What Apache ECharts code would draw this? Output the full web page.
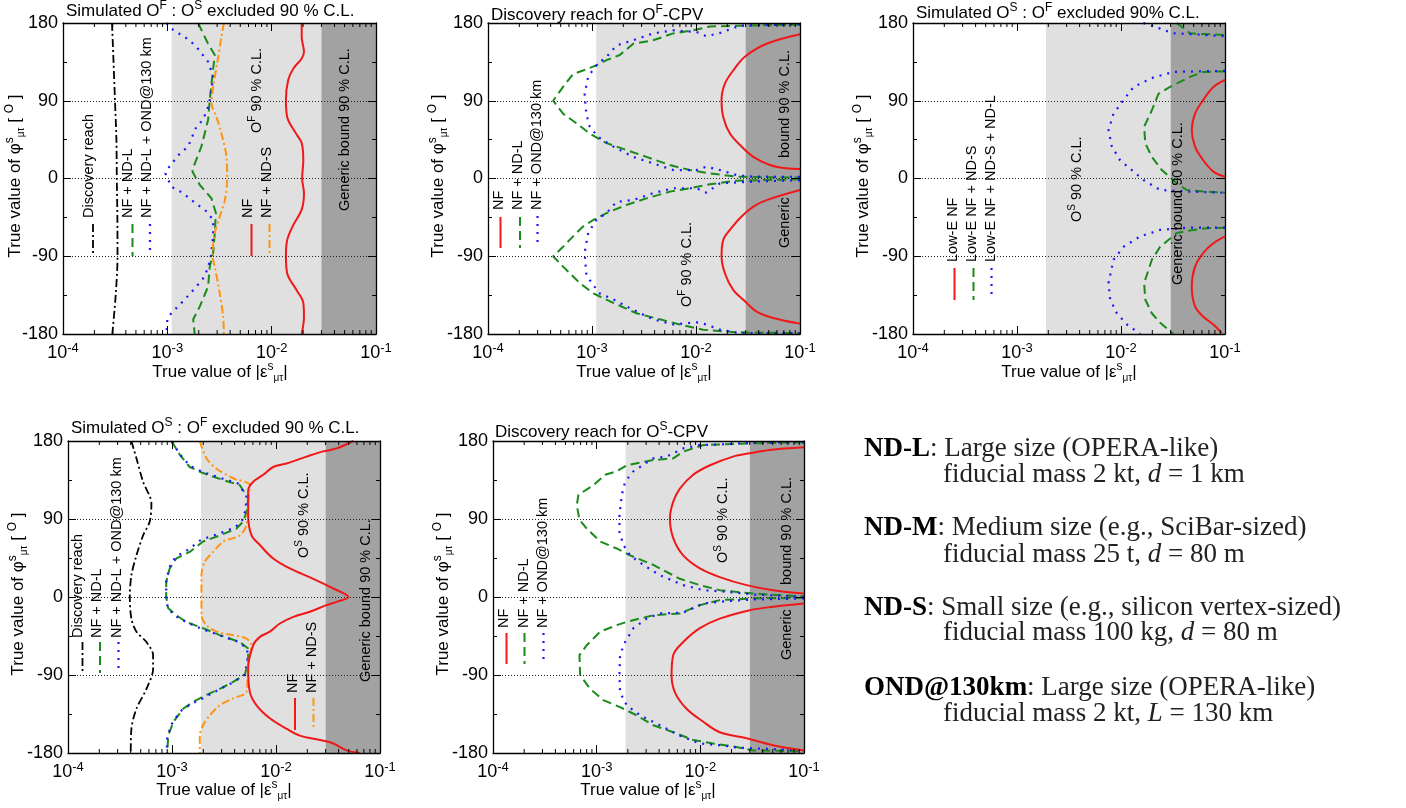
<!DOCTYPE html>
<html><head><meta charset="utf-8">
<script src="https://cdn.jsdelivr.net/npm/echarts@6/dist/echarts.min.js"></script>
<style>html,body{margin:0;padding:0;background:#fff}#c{width:1406px;height:808px}</style>
</head><body><div id="c"></div>
<script>
// ---------------- DATA ----------------
const xMin = 1e-4, xMax = 0.1;
const yMin = -180, yMax = 180, yStep = 90;
const dottedLevels = [90, 0, -90];
const minorTickValues = [2e-4,3e-4,4e-4,5e-4,6e-4,7e-4,8e-4,9e-4,2e-3,3e-3,4e-3,5e-3,6e-3,7e-3,8e-3,9e-3,2e-2,3e-2,4e-2,5e-2,6e-2,7e-2,8e-2,9e-2];
// shaded regions: start of "O 90% C.L." band and of "Generic bound" band
const boundLight = [1.1e-3, 1.1e-3, 1.9e-3, 1.9e-3, 1.9e-3];
const boundGeneric = [0.03, 0.03, 0.03, 0.03, 0.03];

// Panel 1
const p1Black = [[2.95e-4,180],[3.05e-4,135],[3.15e-4,90],[3.25e-4,45],[3.28e-4,0],[3.32e-4,-45],[3.33e-4,-90],[3.2e-4,-135],[2.97e-4,-180]];
const p1Green = [[1.97e-3,180],[2.46e-3,156],[2.85e-3,143],[2.65e-3,110],[2.55e-3,91],[2.46e-3,68],[2.12e-3,37],[1.79e-3,14],[1.74e-3,8],[2.05e-3,-7.5],[2.65e-3,-23],[2.92e-3,-40],[2.85e-3,-63],[2.75e-3,-86],[2.55e-3,-102],[2.46e-3,-125],[2.05e-3,-148],[1.77e-3,-163],[1.83e-3,-180]];
const p1Blue = [[9.8e-4,180],[1.14e-3,172],[1.64e-3,160],[1.97e-3,150],[2.46e-3,135],[2.75e-3,118],[2.59e-3,94.5],[2.46e-3,83],[2.2e-3,68],[1.9e-3,60],[1.58e-3,37],[1.32e-3,29],[1.05e-3,14],[9.6e-4,6],[1.09e-3,-9.4],[1.42e-3,-17],[1.7e-3,-25],[2.37e-3,-38],[2.75e-3,-48],[2.75e-3,-67],[2.59e-3,-94],[2.29e-3,-113],[1.9e-3,-125],[1.47e-3,-140],[1.09e-3,-156],[1.0e-3,-163],[9.8e-4,-180]];
const p1Orange = [[3.48e-3,180],[3.3e-3,164],[3.0e-3,133],[2.75e-3,106],[2.65e-3,87],[2.96e-3,71],[3.3e-3,52],[3.69e-3,25],[3.74e-3,0],[3.56e-3,-25],[3.18e-3,-44],[2.85e-3,-63],[2.71e-3,-90],[2.85e-3,-102],[3.18e-3,-133],[3.43e-3,-160],[3.48e-3,-180]];
const p1Red = [[1.94e-2,180],[1.94e-2,164],[2.04e-2,146.5],[1.94e-2,139],[1.61e-2,127],[1.44e-2,114],[1.37e-2,91],[1.41e-2,71],[1.67e-2,54],[1.94e-2,41],[2.01e-2,21],[1.96e-2,0],[2.04e-2,-17],[1.94e-2,-36],[1.61e-2,-54],[1.41e-2,-71],[1.37e-2,-90],[1.41e-2,-110],[1.73e-2,-129],[2.01e-2,-144],[2.04e-2,-160],[1.94e-2,-180]];

// Panel 2
const p2RedUpper = [[0.1,167],[4.77e-2,156],[2.95e-2,141],[2.28e-2,125],[1.9e-2,110],[1.76e-2,91],[1.83e-2,71],[2.12e-2,52],[2.74e-2,37],[3.56e-2,25],[5.14e-2,15.6],[7.43e-2,11.8],[0.1,11]];
const p2RedLower = [[0.1,-13.3],[4.77e-2,-25],[3.56e-2,-32.5],[2.74e-2,-44],[2.12e-2,-59.5],[1.83e-2,-71],[1.76e-2,-90],[1.9e-2,-110],[2.28e-2,-129],[2.95e-2,-142],[3.83e-2,-154],[5.53e-2,-161.5],[0.1,-168]];
const p2GreenUpper = [[0.1,178],[3.06e-2,177],[1.36e-2,176],[9.4e-3,171.5],[6.04e-3,168],[3.87e-3,160],[2.49e-3,156],[1.85e-3,143],[1.38e-3,137],[1.1e-3,131],[8.2e-4,125],[6.58e-4,121],[5.27e-4,106],[4.23e-4,90],[5.27e-4,75],[7.08e-4,64],[9.5e-4,52],[1.38e-3,41],[2.14e-3,33],[3.34e-3,25],[5.6e-3,15.6],[8.73e-3,9.8],[1.36e-2,6],[2.45e-2,2.1],[0.1,1]];
const p2GreenLower = [[0.1,-1],[2.45e-2,-2.5],[1.36e-2,-6.7],[8.73e-3,-11.3],[5.6e-3,-15.2],[3.34e-3,-23],[2.14e-3,-30.6],[1.38e-3,-40],[1.03e-3,-48],[8.2e-4,-55.6],[7.08e-4,-63],[5.27e-4,-79],[4.23e-4,-90],[5.27e-4,-102],[7.62e-4,-121],[1.03e-3,-133],[1.6e-3,-144],[2.68e-3,-156],[4.49e-3,-163],[7.0e-3,-169],[1.17e-2,-175],[2.45e-2,-178],[0.1,-179]];
const p2BlueUpper = [[0.1,178.5],[2.64e-2,177],[1.7e-2,168.5],[1.26e-2,164.6],[1.01e-2,169.6],[6.04e-3,171.5],[3.87e-3,168],[2.49e-3,160],[1.72e-3,154],[1.38e-3,141],[1.1e-3,131],[9.2e-4,118],[8.5e-4,98],[8.8e-4,75],[9.5e-4,60],[1.15e-3,48],[1.6e-3,37],[2.49e-3,25],[3.87e-3,17.5],[6.04e-3,9.8],[1.01e-2,9.8],[1.26e-2,13.7],[1.7e-2,9.8],[2.45e-2,4],[3.56e-2,2.1],[0.1,2]];
const p2BlueLower = [[0.1,-2],[3.56e-2,-3.6],[1.7e-2,-5.6],[1.26e-2,-16.4],[1.01e-2,-11.3],[6.04e-3,-11.3],[3.87e-3,-17],[2.49e-3,-25],[1.72e-3,-27],[1.38e-3,-40],[1.1e-3,-48],[9.2e-4,-63],[8.5e-4,-86],[8.8e-4,-110],[9.9e-4,-121],[1.19e-3,-133],[1.6e-3,-140],[2.49e-3,-152],[3.87e-3,-163],[6.04e-3,-169],[1.01e-2,-166.5],[1.26e-2,-169],[1.7e-2,-175],[2.64e-2,-179],[0.1,-179]];

// Panel 3
const p3RedUpper = [[0.1,114],[7.73e-2,106],[6.19e-2,91],[5.15e-2,75],[4.79e-2,56],[5.15e-2,37],[6.19e-2,21],[7.73e-2,8],[0.1,2]];
const p3RedLower = [[0.1,-67],[7.73e-2,-75],[6.19e-2,-86],[5.15e-2,-102],[4.79e-2,-125],[5.15e-2,-148],[6.19e-2,-160],[7.73e-2,-169],[9.29e-2,-179]];
const p3GreenTop = [[3.44e-2,180],[4.61e-2,168],[0.1,166]];
const p3GreenUpper = [[0.1,124],[6.19e-2,123.4],[4.61e-2,117.6],[2.96e-2,106],[2.29e-2,98],[1.98e-2,79],[1.67e-2,60],[1.71e-2,41],[1.98e-2,25],[2.47e-2,9.8],[3.44e-2,-5.6],[4.29e-2,-13.3],[6.67e-2,-15.2],[0.1,-16.4]];
const p3GreenLower = [[0.1,-57],[6.67e-2,-57.5],[4.97e-2,-59.5],[3.44e-2,-63],[2.38e-2,-79],[1.98e-2,-94],[1.67e-2,-121],[1.71e-2,-140],[1.98e-2,-156],[2.38e-2,-167],[3.19e-2,-180]];
const p3BlueTop = [[1.64e-2,180],[2.38e-2,173.5],[3.19e-2,168],[4.97e-2,167],[0.1,164.6]];
const p3BlueUpper = [[0.1,124.6],[3.19e-2,123.4],[2.05e-2,117],[1.32e-2,106],[1.06e-2,91],[8.47e-3,75],[7.59e-3,56],[8.17e-3,37],[9.82e-3,21],[1.32e-2,8],[1.64e-2,-1.7],[2.38e-2,-13.3],[4.61e-2,-15.2],[0.1,-16.4]];
const p3BlueLower = [[0.1,-56.8],[4.61e-2,-56.8],[2.38e-2,-59.5],[1.53e-2,-67],[1.06e-2,-79],[8.47e-3,-94],[7.59e-3,-121],[7.87e-3,-140],[9.12e-3,-156],[1.14e-2,-169],[1.53e-2,-180]];

// Panel 4
const p4Black = [[4.07e-4,180],[4.55e-4,160],[5.27e-4,133],[6.34e-4,108],[6.11e-4,87],[5.27e-4,71],[4.55e-4,48],[4.07e-4,25],[3.93e-4,0],[4.07e-4,-25],[4.55e-4,-40],[5.68e-4,-52],[6.58e-4,-67],[6.58e-4,-83],[5.68e-4,-106],[4.55e-4,-129],[4.07e-4,-152],[4.01e-4,-180]];
const p4Green = [[9.9e-4,180],[1.19e-3,164],[1.48e-3,150],[1.99e-3,143],[3.1e-3,135],[4.49e-3,129],[5.4e-3,114],[5.2e-3,98],[4.83e-3,87],[4.17e-3,79],[2.88e-3,71],[1.99e-3,64],[1.48e-3,52],[1.1e-3,44.5],[9.5e-4,33],[8.8e-4,17.5],[8.8e-4,0],[9.2e-4,-13],[1.1e-3,-21],[1.38e-3,-29],[1.99e-3,-36],[2.88e-3,-44],[4.49e-3,-52],[5.4e-3,-59.5],[5.4e-3,-75],[5.01e-3,-90],[3.87e-3,-98],[2.88e-3,-106],[2.14e-3,-113],[1.6e-3,-121],[1.28e-3,-129],[1.03e-3,-144],[9.2e-4,-160],[9.0e-4,-180]];
const p4Blue = [[1.0e-3,179],[1.2e-3,164],[1.5e-3,151],[2.0e-3,144],[3.0e-3,137],[4.3e-3,131],[5.2e-3,117],[5.1e-3,100],[4.7e-3,88],[4.0e-3,80],[2.8e-3,73],[1.9e-3,66],[1.45e-3,55],[1.08e-3,46],[9.4e-4,34],[8.8e-4,17],[8.8e-4,0],[9.1e-4,-13],[1.08e-3,-22],[1.37e-3,-29],[1.95e-3,-37],[2.85e-3,-44],[4.4e-3,-52],[5.3e-3,-60],[5.3e-3,-75],[4.95e-3,-90],[3.8e-3,-99],[2.8e-3,-107],[2.05e-3,-116],[1.5e-3,-124],[1.2e-3,-132],[1.0e-3,-146],[9.0e-4,-161],[8.9e-4,-180]];
const p4Orange = [[1.85e-3,180],[2.14e-3,160],[2.68e-3,148],[3.87e-3,137],[5.6e-3,129],[5.4e-3,110],[5.2e-3,83],[4.49e-3,71],[3.1e-3,64],[2.49e-3,52],[2.07e-3,41],[1.92e-3,25],[1.92e-3,0],[1.92e-3,-21],[2.14e-3,-32.5],[2.68e-3,-40],[3.87e-3,-44],[5.2e-3,-48],[5.82e-3,-55.6],[5.4e-3,-75],[5.2e-3,-109.5],[3.87e-3,-117],[2.88e-3,-125],[2.31e-3,-136.5],[1.99e-3,-148],[1.85e-3,-160],[1.85e-3,-180]];
const p4Red = [[5.53e-2,180],[3.83e-2,171.5],[2.84e-2,168],[1.97e-2,162],[1.26e-2,154],[9.4e-3,150],[7.53e-3,141],[6.04e-3,133],[5.4e-3,123],[5.4e-3,94.5],[5.82e-3,71],[7.0e-3,60],[9.4e-3,44.5],[1.36e-2,33],[2.28e-2,21],[3.56e-2,9.8],[4.95e-2,0],[3.83e-2,-5.6],[3.06e-2,-9.4],[2.12e-2,-17],[1.47e-2,-23],[1.09e-2,-30.6],[8.73e-3,-40],[7.0e-3,-46],[6.04e-3,-55.6],[5.4e-3,-83],[5.6e-3,-109.5],[6.5e-3,-125],[8.73e-3,-140],[1.26e-2,-152],[1.7e-2,-160],[2.64e-2,-165],[3.56e-2,-169],[4.77e-2,-177],[6.41e-2,-180]];

// Panel 5
const p5RedUpper = [[0.1,172.7],[4.67e-2,169.6],[3.0e-2,165.8],[2.07e-2,162],[1.24e-2,152],[8.53e-3,141],[6.35e-3,125],[5.48e-3,110],[5.09e-3,91],[5.48e-3,68],[6.84e-3,48],[9.9e-3,33],[1.54e-2,23],[2.79e-2,13.7],[5.02e-2,7.9],[0.1,4]];
const p5RedLower = [[0.1,-7.5],[5.02e-2,-11.3],[3.0e-2,-15.2],[1.54e-2,-25],[9.9e-3,-36],[6.84e-3,-52],[5.48e-3,-67],[5.28e-3,-90],[5.69e-3,-110],[7.36e-3,-129],[1.07e-2,-144],[1.54e-2,-156],[2.79e-2,-163],[5.02e-2,-171],[0.1,-177]];
const p5GreenUpper = [[0.1,178.5],[3.23e-2,177.3],[1.07e-2,175.4],[6.84e-3,167.7],[5.48e-3,160],[3.52e-3,158],[1.95e-3,152],[1.56e-3,145],[1.21e-3,141],[9.3e-4,129],[6.68e-4,118],[6.43e-4,106],[6.82e-4,89],[8.03e-4,79],[1.08e-3,64],[1.56e-3,56],[2.1e-3,48],[3.52e-3,37],[6.35e-3,21],[9.9e-3,13.7],[1.54e-2,7.9],[3.23e-2,4],[0.1,0.5]];
const p5GreenLower = [[0.1,-1],[3.23e-2,-1.7],[1.54e-2,-3.6],[9.9e-3,-9.4],[6.35e-3,-19],[3.52e-3,-21],[1.95e-3,-28.7],[1.56e-3,-32.5],[1.08e-3,-40],[8.03e-4,-55.6],[6.82e-4,-67],[6.93e-4,-90],[8.65e-4,-106],[1.16e-3,-119],[1.68e-3,-127],[2.43e-3,-136.5],[3.52e-3,-148],[5.48e-3,-156],[8.53e-3,-165],[1.33e-2,-169],[2.23e-2,-173],[3.23e-2,-177],[0.1,-178]];
const p5BlueUpper = [[0.1,178.5],[3.23e-2,178],[1.54e-2,176],[9.9e-3,175.4],[6.84e-3,171.5],[4.73e-3,162],[3.52e-3,160],[2.26e-3,145],[1.88e-3,133],[1.75e-3,118],[1.66e-3,94.5],[1.66e-3,75],[1.81e-3,60],[2.1e-3,48],[2.82e-3,37],[4.08e-3,25],[6.84e-3,13.7],[1.07e-2,7.9],[1.79e-2,6],[3.23e-2,2.9],[0.1,0.2]];
const p5BlueLower = [[0.1,-1.7],[3.23e-2,-2.9],[1.79e-2,-4.8],[1.07e-2,-7.5],[6.84e-3,-18],[4.08e-3,-19],[3.03e-3,-25],[2.26e-3,-36],[1.88e-3,-52],[1.68e-3,-67],[1.66e-3,-90],[1.68e-3,-110],[1.95e-3,-125],[2.62e-3,-136.5],[4.08e-3,-148],[6.35e-3,-160],[9.9e-3,-169],[1.54e-2,-171],[2.4e-2,-174],[0.1,-177]];

// ---------------- LAYOUT / STYLE ----------------
const FONT = '"Liberation Sans", Arial, sans-serif';
const SERIF = '"Liberation Serif", "Times New Roman", serif';
const STY = {
  red:    {color:'#f01818', width:2,   type:'solid',     smooth:0.35},
  green:  {color:'#1a8a1a', width:2,   type:[9,5],       smooth:false},
  blue:   {color:'#1818ff', width:2.2, type:[2,6],       smooth:false},
  orange: {color:'#ff9412', width:2,   type:[8,3,2,3],   smooth:0.3},
  black:  {color:'#000000', width:1.8, type:[8,3,2,3],   smooth:0.3}
};
const grids = [
  {left:63,  top:23,  width:313, height:311},
  {left:488, top:23,  width:312, height:311},
  {left:913, top:23,  width:312, height:311},
  {left:68,  top:441, width:312, height:312},
  {left:493, top:441, width:311, height:312}
];
const panelCurves = [
  [[p1Black,'black'],[p1Green,'green'],[p1Blue,'blue'],[p1Orange,'orange'],[p1Red,'red']],
  [[p2GreenUpper,'green'],[p2GreenLower,'green'],[p2BlueUpper,'blue'],[p2BlueLower,'blue'],[p2RedUpper,'red'],[p2RedLower,'red']],
  [[p3GreenTop,'green'],[p3GreenUpper,'green'],[p3GreenLower,'green'],[p3BlueTop,'blue'],[p3BlueUpper,'blue'],[p3BlueLower,'blue'],[p3RedUpper,'red'],[p3RedLower,'red']],
  [[p4Black,'black'],[p4Green,'green'],[p4Blue,'blue'],[p4Orange,'orange'],[p4Red,'red']],
  [[p5GreenUpper,'green'],[p5GreenLower,'green'],[p5BlueUpper,'blue'],[p5BlueLower,'blue'],[p5RedUpper,'red'],[p5RedLower,'red']]
];

const xAxes = [], yAxes = [], series = [];
grids.forEach((g, i) => {
  const tick = {show:true, inside:true, length:8, lineStyle:{color:'#000', width:1}};
  const line = {show:true, onZero:false, lineStyle:{color:'#000', width:1.3}};
  xAxes.push({type:'log', logBase:10, gridIndex:i, min:xMin, max:xMax, position:'bottom', z:6,
    axisLine:line, axisTick:tick, splitLine:{show:false},
    axisLabel:{show:true, margin:8, showMinLabel:true, showMaxLabel:true,
      formatter: v => '{b|10}{e|' + Math.round(Math.log10(v)) + '}',
      rich:{b:{fontSize:18, fontFamily:FONT, color:'#000', lineHeight:22},
            e:{fontSize:13, fontFamily:FONT, color:'#000', verticalAlign:'top', lineHeight:13}}}});
  xAxes.push({type:'log', logBase:10, gridIndex:i, min:xMin, max:xMax, position:'top', z:6,
    axisLine:line, axisTick:tick, splitLine:{show:false}, axisLabel:{show:false}});
  const ymin = {show:true, splitNumber:2, length:4, lineStyle:{color:'#000', width:1}};
  yAxes.push({type:'value', gridIndex:i, min:yMin, max:yMax, interval:yStep, position:'left', z:6,
    axisLine:line, axisTick:tick, minorTick:ymin, splitLine:{show:false},
    axisLabel:{margin:5, fontSize:18, fontFamily:FONT, color:'#000'}});
  yAxes.push({type:'value', gridIndex:i, min:yMin, max:yMax, interval:yStep, position:'right', z:6,
    axisLine:line, axisTick:tick, minorTick:ymin, splitLine:{show:false}, axisLabel:{show:false}});

  // shaded regions
  series.push({type:'line', xAxisIndex:2*i, yAxisIndex:2*i, data:[], z:1, silent:true,
    markArea:{silent:true, data:[
      [{xAxis:boundLight[i], itemStyle:{color:'#e0e0e0'}}, {xAxis:boundGeneric[i]}],
      [{xAxis:boundGeneric[i], itemStyle:{color:'#a2a2a2'}}, {xAxis:xMax}]
    ]}});
  // dotted reference lines
  series.push({type:'line', xAxisIndex:2*i, yAxisIndex:2*i, data:[], z:2, silent:true,
    markLine:{silent:true, symbol:['none','none'], label:{show:false},
      lineStyle:{color:'#222', width:1, type:[1,2]},
      data: dottedLevels.map(v => ({yAxis:v}))}});
  // curves
  panelCurves[i].forEach(([d, s]) => {
    series.push({type:'line', xAxisIndex:2*i, yAxisIndex:2*i, data:d, z:3, showSymbol:false,
      symbol:'none', smooth:STY[s].smooth, clip:true, silent:true,
      lineStyle:{color:STY[s].color, width:STY[s].width, type:STY[s].type, cap:'butt'}});
  });
  // log minor ticks (bottom + top)
  series.push({type:'custom', xAxisIndex:2*i, yAxisIndex:2*i, z:5, silent:true,
    data: minorTickValues.map(v => [v, 0]),
    renderItem: (params, api) => {
      const v = api.value(0);
      const b = api.coord([v, yMin]), t = api.coord([v, yMax]);
      return {type:'group', children:[
        {type:'line', shape:{x1:b[0], y1:b[1], x2:b[0], y2:b[1]-4}, style:{stroke:'#000', lineWidth:1}},
        {type:'line', shape:{x1:t[0], y1:t[1], x2:t[0], y2:t[1]+4}, style:{stroke:'#000', lineWidth:1}}
      ]};
    }});
});

// ---------------- TEXT / ANNOTATIONS ----------------
function rich(size, color) {
  color = color || '#000';
  return {
    n:{fontSize:size, fontFamily:FONT, fill:color, lineHeight:Math.round(size*1.35)},
    sup:{fontSize:Math.round(size*0.7), fontFamily:FONT, fill:color, verticalAlign:'top', lineHeight:Math.round(size*0.7)},
    sub:{fontSize:Math.round(size*0.6), fontFamily:FONT, fill:color, verticalAlign:'bottom', lineHeight:Math.round(size*0.6)}
  };
}
const gfx = [];
function txt(x, y, text, size, rot, align) {
  gfx.push({type:'text', x:x, y:y, rotation: rot ? Math.PI/2 : 0, z:100, silent:true,
    style:{text:text, rich:rich(size), fill:'#000', font: size + 'px ' + FONT,
      align: align || 'left', textAlign: align || 'left', verticalAlign:'middle', textVerticalAlign:'middle'}});
}
function key(x, y1, y2, s) {
  gfx.push({type:'line', z:100, silent:true, shape:{x1:x, y1:y1, x2:x, y2:y2},
    style:{stroke:STY[s].color, lineWidth:STY[s].width, lineDash: STY[s].type === 'solid' ? null : STY[s].type}});
}
const LS = 14.5;
// titles
txt(66, 11, '{n|Simulated O}{sup|F}{n| : O}{sup|S}{n| excluded 90 % C.L.}', 17);
txt(491, 15, '{n|Discovery reach for O}{sup|F}{n|-CPV}', 17);
txt(916, 13, '{n|Simulated O}{sup|S}{n| : O}{sup|F}{n| excluded 90% C.L.}', 17);
txt(71, 428, '{n|Simulated O}{sup|S}{n| : O}{sup|F}{n| excluded 90 % C.L.}', 17);
txt(495, 432, '{n|Discovery reach for O}{sup|S}{n|-CPV}', 17);
// axis titles
const xTitle = '{n|True value of |ε}{sup|s}{sub|μτ}{n||}';
const yTitle = '{n|True value of φ}{sup|s}{sub|μτ}{n| [ }{sup|O}{n| ]}';
[[220,372],[644,372],[1069,372],[224,790],[648,790]].forEach(p => txt(p[0], p[1], xTitle, 17, false, 'center'));
[[15,176],[438,176],[863,176],[18,594],[443,594]].forEach(p => txt(p[0], p[1], yTitle, 17, true, 'center'));

// Panel 1 annotations
txt(89, 218, '{n|Discovery reach}', LS, true);
txt(128, 218, '{n|NF + ND-L}', LS, true);
txt(147, 218, '{n|NF + ND-L + OND@130 km}', LS, true);
txt(248, 218, '{n|NF}', LS, true);
txt(267, 218, '{n|NF + ND-S}', LS, true);
txt(257, 133, '{n|O}{sup|F}{n| 90 % C.L.}', LS, true);
txt(345, 211, '{n|Generic bound 90 % C.L.}', LS, true);
key(93, 224, 256, 'black'); key(132.5, 224, 256, 'green'); key(150, 224, 256, 'blue');
key(251.5, 224, 256, 'red'); key(269.5, 224, 256, 'orange');
// Panel 2
txt(499, 210, '{n|NF}', LS, true);
txt(518, 210, '{n|NF + ND-L}', LS, true);
txt(537, 210, '{n|NF + OND@130 km}', LS, true);
txt(687, 307, '{n|O}{sup|F}{n| 90 % C.L.}', LS, true);
txt(785, 158, '{n|bound 90 % C.L.}', LS, true);
txt(785, 248, '{n|Generic}', LS, true);
key(500.5, 217, 248, 'red'); key(520, 217, 248, 'green'); key(537.5, 216, 244, 'blue');
// Panel 3
txt(953, 262, '{n|Low-E NF}', LS, true);
txt(972, 262, '{n|Low-E NF + ND-S}', LS, true);
txt(991, 262, '{n|Low-E NF + ND-S + ND-L}', LS, true);
txt(1077, 222, '{n|O}{sup|S}{n| 90 % C.L.}', LS, true);
txt(1178, 285, '{n|Generic bound 90 % C.L.}', LS, true);
key(954.5, 268, 300, 'red'); key(973.5, 268, 300, 'green'); key(991.5, 268, 300, 'blue');
// Panel 4
txt(78, 638, '{n|Discovery reach}', LS, true);
txt(97, 638, '{n|NF + ND-L}', LS, true);
txt(117, 638, '{n|NF + ND-L + OND@130 km}', LS, true);
txt(293, 693, '{n|NF}', LS, true);
txt(312, 693, '{n|NF + ND-S}', LS, true);
txt(304, 558, '{n|O}{sup|S}{n| 90 % C.L.}', LS, true);
txt(366, 682, '{n|Generic bound 90 % C.L.}', LS, true);
key(82.5, 642, 673, 'black'); key(100, 642, 673, 'green'); key(118.5, 642, 673, 'blue');
key(295, 698, 730, 'red'); key(313.5, 698, 730, 'orange');
// Panel 5
txt(504, 628, '{n|NF}', LS, true);
txt(524, 628, '{n|NF + ND-L}', LS, true);
txt(543, 628, '{n|NF + OND@130 km}', LS, true);
txt(723, 563, '{n|O}{sup|S}{n| 90 % C.L.}', LS, true);
txt(787, 585, '{n|bound 90 % C.L.}', LS, true);
txt(787, 660, '{n|Generic}', LS, true);
key(506.5, 633, 664, 'red'); key(524.5, 633, 664, 'green'); key(543.5, 633, 662, 'blue');

// right-hand description block
const SS = 27;
const serifRich = {
  b:{fontFamily:SERIF, fontSize:SS, fontWeight:'bold', fill:'#000'},
  r:{fontFamily:SERIF, fontSize:SS, fill:'#222'},
  i:{fontFamily:SERIF, fontSize:SS, fontStyle:'italic', fill:'#222'}
};
const descLines = [
  [864, 449, '{b|ND-L}{r|: Large size (OPERA-like)}'],
  [943, 475, '{r|fiducial mass 2 kt, }{i|d}{r| = 1 km}'],
  [864, 528, '{b|ND-M}{r|: Medium size (e.g., SciBar-sized)}'],
  [943, 555, '{r|fiducial mass 25 t, }{i|d}{r| = 80 m}'],
  [864, 608, '{b|ND-S}{r|: Small size (e.g., silicon vertex-sized)}'],
  [943, 633, '{r|fiducial mass 100 kg, }{i|d}{r| = 80 m}'],
  [864, 688, '{b|OND@130km}{r|: Large size (OPERA-like)}'],
  [943, 714, '{r|fiducial mass 2 kt, }{i|L}{r| = 130 km}']
];
descLines.forEach(([x, y, t]) => gfx.push({type:'text', x:x, y:y, z:100, silent:true,
  style:{text:t, rich:serifRich, font:SS + 'px ' + SERIF, fill:'#222', align:'left', textAlign:'left', verticalAlign:'middle', textVerticalAlign:'middle'}}));

const chart = echarts.init(document.getElementById('c'), null, {renderer:'canvas'});
chart.setOption({
  animation:false,
  backgroundColor:'#fff',
  grid: grids.map(g => Object.assign({containLabel:false, show:false}, g)),
  xAxis: xAxes, yAxis: yAxes, series: series,
  graphic: {elements: gfx}
});
</script></body></html>
